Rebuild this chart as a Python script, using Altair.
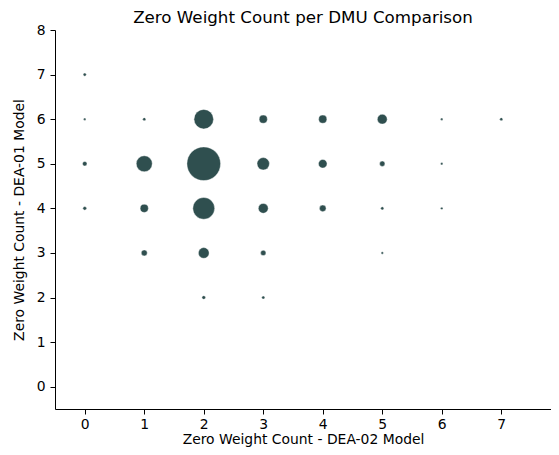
import altair as alt
import pandas as pd

# Zero weight counts: DEA-02 (x) vs DEA-01 (y), number of DMUs at each pair
dea02 = [0, 0, 1, 2, 3, 4, 5, 6, 7,
         0, 1, 2, 3, 4, 5, 6,
         0, 1, 2, 3, 4, 5, 6,
         1, 2, 3, 5,
         2, 3]
dea01 = [7, 6, 6, 6, 6, 6, 6, 6, 6,
         5, 5, 5, 5, 5, 5, 5,
         4, 4, 4, 4, 4, 4, 4,
         3, 3, 3, 3,
         2, 2]
counts = [2, 1, 2, 100, 17, 17, 25, 1, 2,
          5, 67, 298, 40, 19, 7, 1,
          3, 17, 125, 25, 11, 2, 1,
          9, 30, 7, 1,
          3, 2]

x_ticks = [0, 1, 2, 3, 4, 5, 6, 7]
y_ticks = [0, 1, 2, 3, 4, 5, 6, 7, 8]

df = pd.DataFrame({"x": dea02, "y": dea01, "n": counts})

FONT = "DejaVu Sans"

chart = alt.Chart(df).mark_circle(
    color="#2F4F4F", opacity=1, stroke="white", strokeWidth=0.4
).encode(
    x=alt.X("x:Q", scale=alt.Scale(domain=[-0.5, 7.836], nice=False, zero=False),
            axis=alt.Axis(values=x_ticks, title="Zero Weight Count - DEA-02 Model",
                          labelPadding=3, titlePadding=2)),
    y=alt.Y("y:Q", scale=alt.Scale(domain=[-0.5, 8], nice=False, zero=False),
            axis=alt.Axis(values=y_ticks, title="Zero Weight Count - DEA-01 Model",
                          labelPadding=5, titlePadding=10)),
    size=alt.Size("n:Q", scale=alt.Scale(domain=[0, 300], range=[2, 1140]), legend=None),
).properties(
    width=496,
    height=379,
    title=alt.TitleParams("Zero Weight Count per DMU Comparison", fontSize=16.7,
                          font=FONT, fontWeight="normal", color="black",
                          offset=4, frame="group", dy=8),
    autosize=alt.AutoSizeParams(type="none"),
    padding={"left": 47, "top": 22, "right": 0, "bottom": 38},
).configure_axis(
    grid=False,
    domainColor="black",
    domainWidth=1,
    tickColor="black",
    tickSize=5,
    labelFont=FONT,
    labelFontSize=13.9,
    labelColor="black",
    titleFont=FONT,
    titleFontSize=13.9,
    titleFontWeight="normal",
    titleColor="black",
).configure_view(stroke=None)

chart.save("out.html", embed_options={"renderer": "svg", "actions": False})
